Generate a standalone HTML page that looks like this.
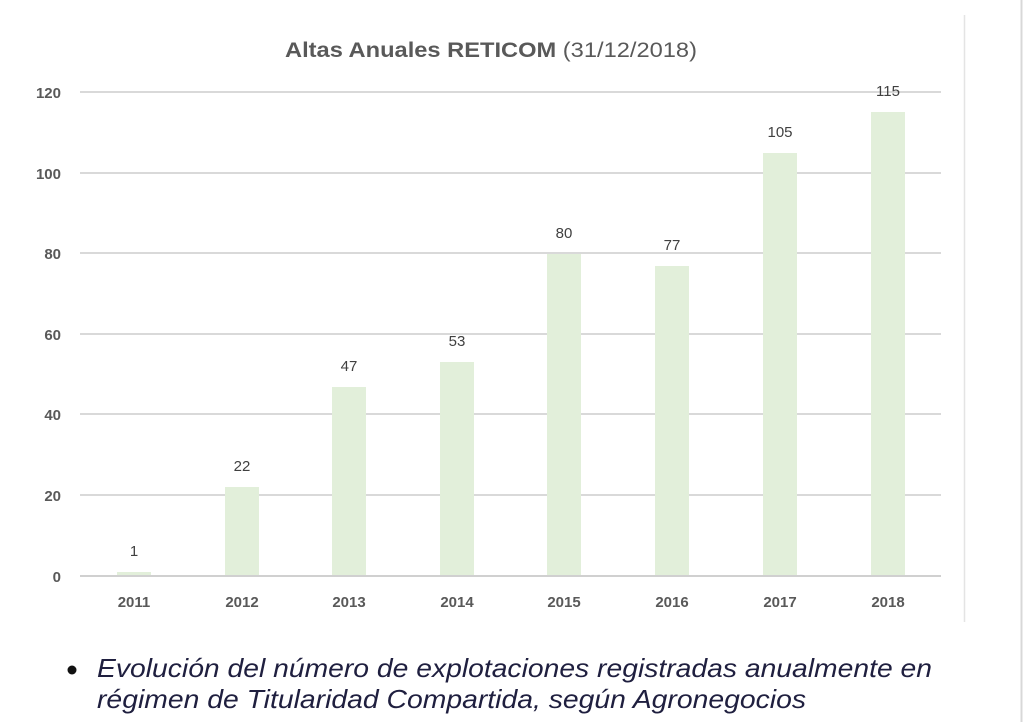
<!DOCTYPE html>
<html><head><style>
html,body{margin:0;padding:0;background:#fff;width:1024px;height:722px;overflow:hidden;}
</style></head><body>
<svg width="1024" height="722" xmlns="http://www.w3.org/2000/svg" style="position:absolute;left:0;top:0">
<line x1="964.5" y1="15" x2="964.5" y2="622" stroke="#e4e4e4" stroke-width="1.5"/>
<line x1="1021.5" y1="0" x2="1021.5" y2="722" stroke="#d8d8d8" stroke-width="2"/>
<text x="285" y="57" textLength="412" lengthAdjust="spacingAndGlyphs" font-family="Liberation Sans, sans-serif" font-size="21" fill="#595959"><tspan font-weight="bold">Altas Anuales RETICOM</tspan> (31/12/2018)</text>
<g stroke="#d9d9d9" stroke-width="2">
<line x1="80" y1="92" x2="941" y2="92"/>
<line x1="80" y1="173" x2="941" y2="173"/>
<line x1="80" y1="253" x2="941" y2="253"/>
<line x1="80" y1="334" x2="941" y2="334"/>
<line x1="80" y1="414" x2="941" y2="414"/>
<line x1="80" y1="495" x2="941" y2="495"/>
</g>
<g font-family="Liberation Sans, sans-serif" font-size="15" font-weight="bold" fill="#595959" text-anchor="end">
<text x="61" y="98">120</text><text x="61" y="179">100</text><text x="61" y="259">80</text><text x="61" y="340">60</text><text x="61" y="420">40</text><text x="61" y="501">20</text><text x="61" y="582">0</text>
</g>
<g fill="#e2efda">
<rect x="117" y="572" width="34" height="4"/>
<rect x="225" y="487" width="34" height="89"/>
<rect x="332" y="387" width="34" height="189"/>
<rect x="440" y="362" width="34" height="214"/>
<rect x="547" y="254" width="34" height="322"/>
<rect x="655" y="266" width="34" height="310"/>
<rect x="763" y="153" width="34" height="423"/>
<rect x="871" y="112" width="34" height="464"/>
</g>
<line x1="80" y1="576" x2="941" y2="576" stroke="#d0d0d0" stroke-width="2"/>
<g font-family="Liberation Sans, sans-serif" font-size="15" fill="#404040" text-anchor="middle">
<text x="134" y="556">1</text><text x="242" y="471">22</text><text x="349" y="371">47</text><text x="457" y="346">53</text><text x="564" y="238">80</text><text x="672" y="250">77</text><text x="780" y="137">105</text><text x="888" y="96">115</text>
</g>
<g font-family="Liberation Sans, sans-serif" font-size="15" font-weight="bold" fill="#595959" text-anchor="middle">
<text x="134" y="607">2011</text><text x="242" y="607">2012</text><text x="349" y="607">2013</text><text x="457" y="607">2014</text><text x="564" y="607">2015</text><text x="672" y="607">2016</text><text x="780" y="607">2017</text><text x="888" y="607">2018</text>
</g>
<circle cx="72" cy="670" r="4.5" fill="#111"/>
<g font-family="Liberation Sans, sans-serif" font-size="26" font-style="italic" fill="#1f1f3f">
<text x="97" y="677" textLength="835" lengthAdjust="spacingAndGlyphs">Evolución del número de explotaciones registradas anualmente en</text>
<text x="97" y="708" textLength="709" lengthAdjust="spacingAndGlyphs">régimen de Titularidad Compartida, según Agronegocios</text>
</g>
</svg>
</body></html>
